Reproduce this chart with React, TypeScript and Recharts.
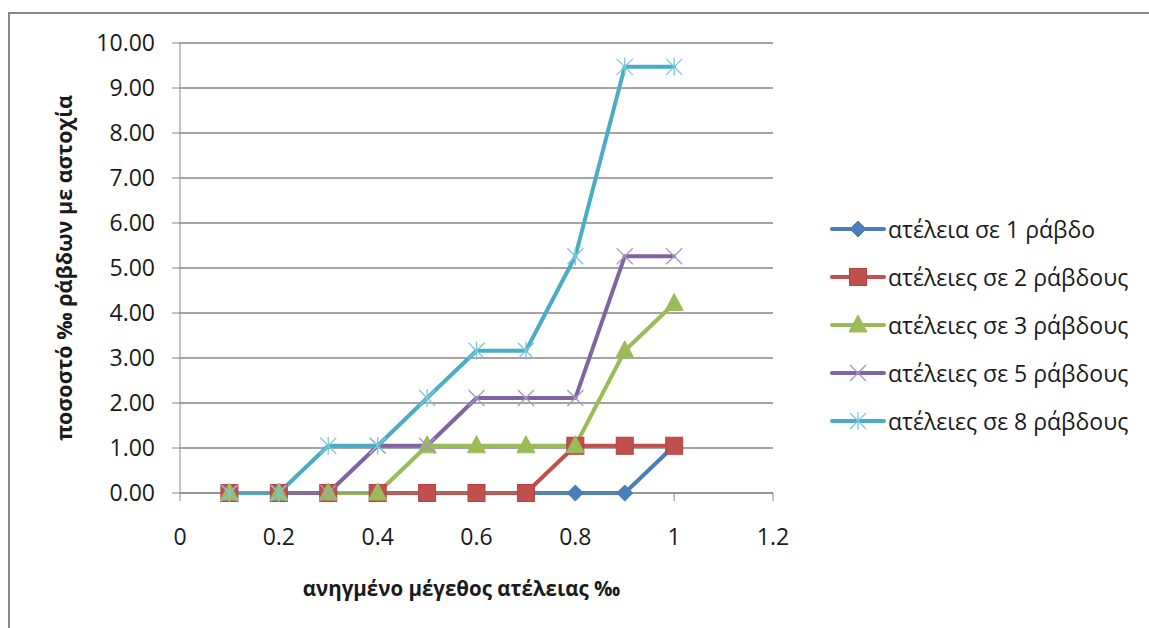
import React from 'react'
import {
  LineChart,
  Line,
  XAxis,
  YAxis,
  CartesianGrid,
  Legend,
} from 'recharts'

// reduced defect size (‰)
const defectSize = [0.1, 0.2, 0.3, 0.4, 0.5, 0.6, 0.7, 0.8, 0.9, 1.0]

// share of bars (‰) that fail, per number of defective bars
const oneBar = [0, 0, 0, 0, 0, 0, 0, 0, 0, 1.05]
const twoBars = [0, 0, 0, 0, 0, 0, 0, 1.05, 1.05, 1.05]
const threeBars = [0, 0, 0, 0, 1.05, 1.05, 1.05, 1.05, 3.16, 4.21]
const fiveBars = [0, 0, 0, 1.05, 1.05, 2.11, 2.11, 2.11, 5.26, 5.26]
const eightBars = [0, 0, 1.05, 1.05, 2.11, 3.16, 3.16, 5.26, 9.47, 9.47]

const xTicks = [0, 0.2, 0.4, 0.6, 0.8, 1, 1.2]
const yTicks = [0, 1, 2, 3, 4, 5, 6, 7, 8, 9, 10]

type MarkerKind = 'diamond' | 'square' | 'triangle' | 'cross' | 'star'

const series: { key: string; name: string; color: string; marker: MarkerKind; values: number[] }[] = [
  { key: 's1', name: 'ατέλεια σε 1 ράβδο', color: '#4A7EBB', marker: 'diamond', values: oneBar },
  { key: 's2', name: 'ατέλειες σε 2 ράβδους', color: '#C0504D', marker: 'square', values: twoBars },
  { key: 's3', name: 'ατέλειες σε 3 ράβδους', color: '#9BBB59', marker: 'triangle', values: threeBars },
  { key: 's5', name: 'ατέλειες σε 5 ράβδους', color: '#8064A2', marker: 'cross', values: fiveBars },
  { key: 's8', name: 'ατέλειες σε 8 ράβδους', color: '#4BACC6', marker: 'star', values: eightBars },
]

const data = defectSize.map((x, i) => {
  const row: Record<string, number> = { x }
  series.forEach((s) => {
    row[s.key] = s.values[i]
  })
  return row
})

const FONT = '"Open Sans", "Noto Sans", sans-serif'
const AXIS_GRAY = '#868686'
const TEXT = '#1a1a1a'

function Marker({ kind, cx, cy, color }: { kind: MarkerKind; cx: number; cy: number; color: string }) {
  switch (kind) {
    case 'diamond':
      return (
        <polygon
          points={`${cx},${cy - 8} ${cx + 8},${cy} ${cx},${cy + 8} ${cx - 8},${cy}`}
          fill={color}
          stroke={color}
        />
      )
    case 'square':
      return <rect x={cx - 8.5} y={cy - 8.5} width={17} height={17} fill={color} stroke="#B5423F" />
    case 'triangle':
      return (
        <polygon
          points={`${cx},${cy - 10} ${cx + 9},${cy + 7} ${cx - 9},${cy + 7}`}
          fill={color}
          stroke={color}
        />
      )
    case 'cross':
      return (
        <g stroke="#A996C4" strokeWidth={1.3}>
          <line x1={cx - 8} y1={cy - 8} x2={cx + 8} y2={cy + 8} />
          <line x1={cx - 8} y1={cy + 8} x2={cx + 8} y2={cy - 8} />
        </g>
      )
    case 'star':
      return (
        <g stroke="#7CC6DA" strokeWidth={1.3}>
          <line x1={cx - 8} y1={cy - 8} x2={cx + 8} y2={cy + 8} />
          <line x1={cx - 8} y1={cy + 8} x2={cx + 8} y2={cy - 8} />
          <line x1={cx} y1={cy - 9} x2={cx} y2={cy + 9} />
        </g>
      )
  }
}

function LegendBox({ payload }: { payload?: any[] }) {
  if (!payload) return null
  return (
    <div>
      {payload.map((entry) => {
        const s = series.find((d) => d.key === entry.dataKey)
        if (!s) return null
        return (
          <div key={s.key} style={{ display: 'flex', alignItems: 'center', height: 48 }}>
            <svg width={58} height={24} style={{ flex: 'none' }}>
              <line x1={2} y1={12} x2={54} y2={12} stroke={s.color} strokeWidth={4} strokeLinecap="round" />
              <Marker kind={s.marker} cx={28} cy={12} color={s.color} />
            </svg>
            <span style={{ fontFamily: FONT, fontSize: 23, color: TEXT, whiteSpace: 'nowrap' }}>{s.name}</span>
          </div>
        )
      })}
    </div>
  )
}

export default function App() {
  return (
    <div
      style={{
        position: 'absolute',
        left: 0,
        top: 0,
        width: 1149,
        height: 628,
        overflow: 'hidden',
        background: '#fff',
      }}
    >
      <div
        style={{
          position: 'absolute',
          left: 8,
          top: 12,
          width: 1200,
          height: 700,
          border: '2px solid #878787',
        }}
      />
      <LineChart width={1149} height={628} data={data} margin={{ top: 43, right: 376, bottom: 0, left: 0 }}>
        <CartesianGrid horizontal vertical={false} stroke={AXIS_GRAY} strokeWidth={1.3} />
        <XAxis
          type="number"
          dataKey="x"
          domain={[0, 1.2]}
          ticks={xTicks}
          tickFormatter={(v: number) => String(v)}
          height={135}
          stroke={AXIS_GRAY}
          tickSize={8}
          tickMargin={28}
          tick={{ fontFamily: FONT, fontSize: 23, fill: TEXT }}
          label={{
            value: 'ανηγμένο μέγεθος ατέλειας ‰',
            position: 'insideBottom',
            offset: 32,
            dx: -15,
            style: { fontFamily: FONT, fontSize: 20.5, fontWeight: 700, fill: TEXT },
          }}
        />
        <YAxis
          type="number"
          domain={[0, 10]}
          ticks={yTicks}
          tickFormatter={(v: number) => v.toFixed(2)}
          width={180}
          stroke={AXIS_GRAY}
          tickSize={8}
          tickMargin={17}
          interval={0}
          tick={{ fontFamily: FONT, fontSize: 23, fill: TEXT }}
          label={{
            value: 'ποσοστό ‰ ράβδων με αστοχία',
            angle: -90,
            position: 'insideLeft',
            offset: 64,
            style: { textAnchor: 'middle', fontFamily: FONT, fontSize: 21.5, fontWeight: 700, fill: TEXT },
          }}
        />
        <Legend
          layout="horizontal"
          verticalAlign="middle"
          align="center"
          wrapperStyle={{ left: 830, top: 205, width: 320 }}
          content={(props: any) => <LegendBox payload={props.payload} />}
        />
        {series.map((s) => (
          <Line
            key={s.key}
            dataKey={s.key}
            name={s.name}
            type="linear"
            stroke={s.color}
            strokeWidth={4}
            strokeLinejoin="round"
            strokeLinecap="round"
            isAnimationActive={false}
            dot={(p: any) => (
              <Marker key={`${s.key}-${p.index}`} kind={s.marker} cx={p.cx} cy={p.cy} color={s.color} />
            )}
            activeDot={false}
          />
        ))}
      </LineChart>
    </div>
  )
}
